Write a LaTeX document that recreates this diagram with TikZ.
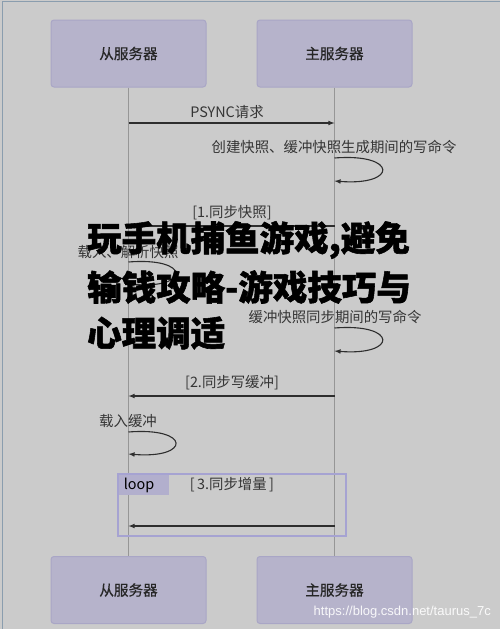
\documentclass[tikz,border=0pt]{standalone}
\usepackage{fontspec}
\newfontfamily\cjk[BoldFeatures={FakeBold=1.6}]{Noto Sans CJK SC}
\newfontfamily\cjkmed[FakeBold=0.5]{Noto Sans CJK SC}
\newfontfamily\latinsans{Liberation Sans}
\usetikzlibrary{arrows}

\definecolor{hatter}{HTML}{CBCBCB}
\definecolor{doboz}{HTML}{B6B3CB}
\definecolor{keret}{HTML}{A9A6C6}
\definecolor{hurok}{HTML}{A6A3D2}
\definecolor{eletvonal}{HTML}{969696}
\definecolor{nyil}{HTML}{2E2E2E}
\definecolor{szoveg}{HTML}{353535}
\definecolor{szel}{HTML}{8A9DAE}

\begin{document}
\begin{tikzpicture}[x=1pt,y=-1pt,
	szerver/.style={draw=keret, fill=doboz, line width=1pt, rounded corners=3pt, minimum width=155pt, minimum height=67pt, inner sep=0pt, font=\cjkmed\fontsize{14.6}{17}\selectfont, text=black!85},
	eletvonal/.style={draw=eletvonal, line width=0.9pt},
	uzenet/.style={draw=nyil, line width=1.1pt, -latex},
	felirat/.style={font=\cjk\fontsize{14.4}{17}\selectfont, text=szoveg, inner sep=0pt},
	cim/.style={font=\cjk\bfseries\fontsize{34.5}{40}\selectfont, text=black, anchor=west, inner sep=0pt}]
	
	% Hatter es keret
	\fill [hatter] (0,0) rectangle (500,629);
	\useasboundingbox (0,0) rectangle (500,629);
	\draw [szel, line width=1pt] (2.5,629)--(2.5,1.5)--(500,1.5); % bal es felso szel
	
	% Szerverek
	\node [szerver] (szolgaFent) at (128.5,53.5) {从服务器};
	\node [szerver] (mesterFent) at (334.5,53.5) {主服务器};
	\node [szerver] (szolgaLent) at (128.5,590) {从服务器};
	\node [szerver] (mesterLent) at (334.5,590) {主服务器};
	
	% Eletvonalak
	\draw [eletvonal] (szolgaFent.south)--(szolgaLent.north);
	\draw [eletvonal] (mesterFent.south)--(mesterLent.north);
	
	% Pontok az eletvonalakon
	\coordinate (psyncS) at (128.5,123);
	\coordinate (psyncM) at (334.5,123);
	\coordinate (hurok1a) at (334.5,158);
	\coordinate (hurok1b) at (334.5,181);
	\coordinate (snapM) at (334.5,226);
	\coordinate (snapS) at (128.5,226);
	\coordinate (hurok2a) at (128.5,262);
	\coordinate (hurok2b) at (128.5,284);
	\coordinate (hurok3a) at (334.5,328);
	\coordinate (hurok3b) at (334.5,351);
	\coordinate (bufM) at (334.5,396);
	\coordinate (bufS) at (128.5,396);
	\coordinate (hurok4a) at (128.5,432);
	\coordinate (hurok4b) at (128.5,454);
	\coordinate (incrM) at (334.5,526);
	\coordinate (incrS) at (128.5,526);
	
	% Uzenetek
	\draw [uzenet] (psyncS)--(psyncM); % PSYNC
	\node [felirat] (psyncTxt) at (227,112) {PSYNC请求};
	
	\node [felirat] (snapTxt) at (334,147) {创建快照、缓冲快照生成期间的写命令};
	\draw [uzenet] (hurok1a) .. controls (398,153) and (398,186) .. (hurok1b); % onhurok
	
	\draw [uzenet] (snapM)--(snapS); % 1. szinkron
	\node [felirat] (step1Txt) at (232,213) {[1.同步快照]};
	
	\node [felirat] (loadTxt) at (128,252) {载入、解析快照};
	\draw [uzenet] (hurok2a) .. controls (191,257) and (191,289) .. (hurok2b);
	
	\node [felirat] (bufTxt) at (335,317) {缓冲快照同步期间的写命令};
	\draw [uzenet] (hurok3a) .. controls (398,323) and (398,356) .. (hurok3b);
	
	\draw [uzenet] (bufM)--(bufS); % 2. szinkron
	\node [felirat] (step2Txt) at (232,383) {[2.同步写缓冲]};
	
	\node [felirat] (loadBufTxt) at (128,421) {载入缓冲};
	\draw [uzenet] (hurok4a) .. controls (191,427) and (191,459) .. (hurok4b);
	
	% Ciklus keret
	\fill [doboz!75!hurok] (118,474) rectangle (169,495);
	\draw [hurok, line width=1.2pt] (118,474) rectangle (346,536);
	\node [felirat, text=black] (loopTxt) at (139,485) {loop};
	\node [felirat] (step3Txt) at (232,485) {[\,3.同步增量\,]};
	\draw [uzenet] (incrM)--(incrS); % 3. szinkron
	
	% Felirat a kep folott
	\node [cim] (cim1) at (87,240) {玩手机捕鱼游戏,避免};
	\node [cim] (cim2) at (87,287) {输钱攻略-游戏技巧与};
	\node [cim] (cim3) at (87,333) {心理调适};
	
	% Vizjel
	\node [anchor=east, inner sep=0pt, text=white, opacity=0.9, font=\latinsans\fontsize{13}{15}\selectfont] (vizjel) at (491,612) {https://blog.csdn.net/taurus\_7c};
	
\end{tikzpicture}
\end{document}
